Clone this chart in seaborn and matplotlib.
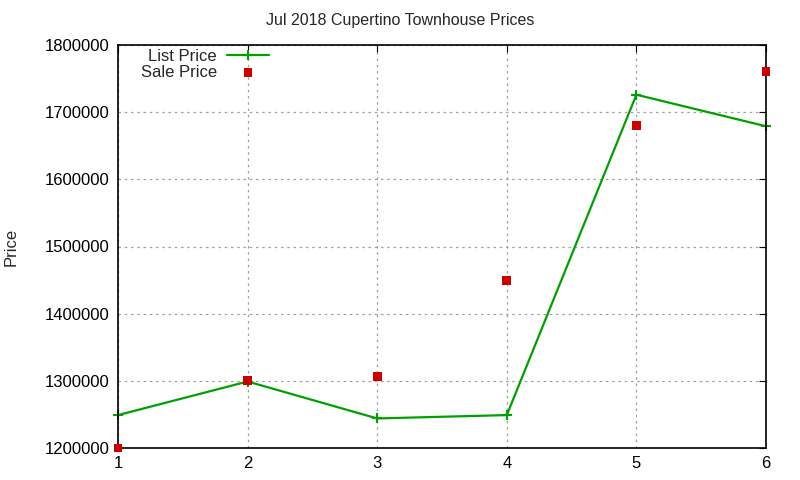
import numpy as np
import pandas as pd
import matplotlib
matplotlib.use("Agg")
import matplotlib.pyplot as plt
import seaborn as sns

TITLE = "Jul 2018 Cupertino Townhouse Prices"
x_vals = [1, 2, 3, 4, 5, 6]
list_price = [1249000, 1299000, 1244000, 1249000, 1726000, 1679000]
sale_price = [1200000, 1300000, 1307000, 1449000, 1680000, 1760000]
y_ticks = [1200000, 1300000, 1400000, 1500000, 1600000, 1700000, 1800000]

sns.set_style("white")
plt.rcParams["font.family"] = ["Liberation Sans", "DejaVu Sans"]

df = pd.DataFrame({"x": x_vals, "list": list_price, "sale": sale_price})

fig = plt.figure(figsize=(8, 4.8), dpi=100)
ax = fig.add_axes([118 / 800, 1 - 448 / 480, (766 - 118) / 800, (448 - 45) / 480])

green = "#00a000"
sns.lineplot(data=df, x="x", y="list", ax=ax, color=green, linewidth=1.6,
             marker="+", markersize=7, markeredgewidth=1.5,
             markeredgecolor=green, markerfacecolor=green,
             label="List Price", clip_on=False, zorder=2)
sns.scatterplot(data=df, x="x", y="sale", ax=ax, color="#cc0000", marker="s",
                s=40, edgecolor="none", label="Sale Price", zorder=3, clip_on=False)

ax.set_xlim(1, 6)
ax.set_ylim(1200000, 1800000)
ax.set_xticks(x_vals)
ax.set_yticks(y_ticks)
ax.set_yticklabels([str(v) for v in y_ticks])
ax.tick_params(direction="in", length=5, labelsize=12, top=True, right=True,
               colors="black", pad=6)
ax.grid(True, linestyle=(0, (2, 3)), color="#a0a0a0", linewidth=0.9)
for s in ax.spines.values():
    s.set_color("black")
    s.set_linewidth(1.2)

ax.set_xlabel("")
ax.set_ylabel("Price", fontsize=12)
ax.yaxis.set_label_coords(-0.153, 0.5)
fig.text(0.5, 1 - 20 / 480, TITLE, ha="center", va="center", fontsize=11.5)

leg = ax.legend(loc="upper left", bbox_to_anchor=(0.02, 1.015), frameon=False,
                markerfirst=False, fontsize=12, handlelength=2.5,
                labelspacing=0.05, handletextpad=0.6, borderaxespad=0.2)
for t in leg.get_texts():
    t.set_ha("right")

fig.savefig("out.png", dpi=100)
